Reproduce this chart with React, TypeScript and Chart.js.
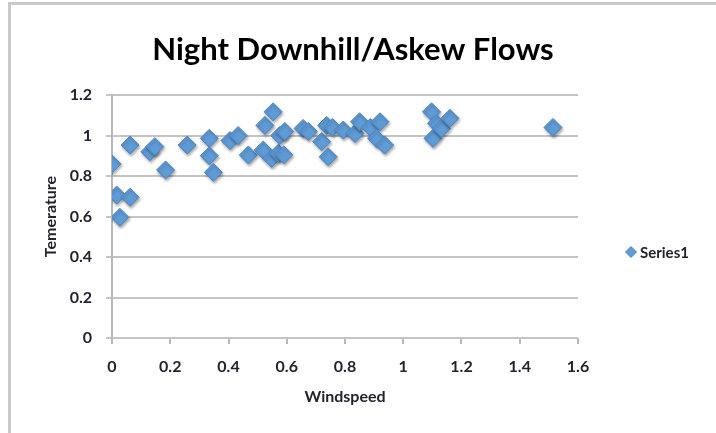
import { useEffect, useRef } from "react";
import { Chart, registerables } from "chart.js";

Chart.register(...registerables);

// Night flow observations: wind speed against temperature
const windspeed = [
  0.0, 0.016, 0.027, 0.062, 0.062, 0.13, 0.147, 0.184, 0.258, 0.334,
  0.334, 0.348, 0.405, 0.433, 0.468, 0.519, 0.525, 0.553, 0.548, 0.571,
  0.576, 0.593, 0.59, 0.656, 0.674, 0.72, 0.737, 0.742, 0.757, 0.794,
  0.834, 0.85, 0.887, 0.92, 0.908, 0.936, 1.097, 1.114, 1.102, 1.131,
  1.16, 1.514,
];
const temperature = [
  0.86, 0.706, 0.596, 0.695, 0.953, 0.92, 0.945, 0.83, 0.953, 0.986,
  0.9, 0.818, 0.975, 1.0, 0.904, 0.928, 1.05, 1.117, 0.887, 0.912,
  1.0, 1.02, 0.905, 1.035, 1.02, 0.97, 1.05, 0.895, 1.04, 1.027,
  1.01, 1.068, 1.04, 1.068, 0.986, 0.953, 1.117, 1.06, 0.986, 1.035,
  1.085, 1.04,
];

const xTickValues = [0, 0.2, 0.4, 0.6, 0.8, 1, 1.2, 1.4, 1.6];
const xTickLabels = ["0", "0.2", "0.4", "0.6", "0.8", "1", "1.2", "1.4", "1.6"];
const yTickValues = [0, 0.2, 0.4, 0.6, 0.8, 1, 1.2];
const yTickLabels = ["0", "0.2", "0.4", "0.6", "0.8", "1", "1.2"];

const chartTitle = "Night Downhill/Askew Flows";
const xAxisTitle = "Windspeed";
const yAxisTitle = "Temerature";
const seriesName = "Series1";

const FONT = "Lato, 'Open Sans', 'DejaVu Sans', sans-serif";
const MARKER_FILL = "#5f9bd6";
const MARKER_EDGE = "#4d85c0";
const TEXT_COLOR = "#222230";

function drawDiamond(ctx: CanvasRenderingContext2D, x: number, y: number, r: number) {
  ctx.beginPath();
  ctx.moveTo(x, y - r);
  ctx.lineTo(x + r, y);
  ctx.lineTo(x, y + r);
  ctx.lineTo(x - r, y);
  ctx.closePath();
  ctx.fill();
  ctx.stroke();
}

const labelsPlugin = {
  id: "labels",
  beforeDatasetsDraw(chart: any) {
    const ctx = chart.ctx as CanvasRenderingContext2D;
    ctx.save();
    ctx.shadowColor = "rgba(0,0,0,0.35)";
    ctx.shadowBlur = 3;
    ctx.shadowOffsetX = 1;
    ctx.shadowOffsetY = 2;
  },
  afterDatasetsDraw(chart: any) {
    const ctx = chart.ctx as CanvasRenderingContext2D;
    ctx.restore();
  },
  afterDraw(chart: any) {
    const ctx = chart.ctx as CanvasRenderingContext2D;
    const area = chart.chartArea;
    ctx.save();
    ctx.fillStyle = "#000";
    ctx.textAlign = "center";
    ctx.textBaseline = "middle";
    ctx.font = `bold 31px ${FONT}`;
    ctx.fillText(chartTitle, 353, 50);

    ctx.fillStyle = TEXT_COLOR;
    ctx.font = `bold 16px ${FONT}`;
    ctx.fillText(xAxisTitle, 345, 397);

    ctx.save();
    ctx.translate(51, (area.top + area.bottom) / 2);
    ctx.rotate(-Math.PI / 2);
    ctx.fillText(yAxisTitle, 0, 0);
    ctx.restore();

    // legend
    ctx.fillStyle = MARKER_FILL;
    ctx.strokeStyle = MARKER_EDGE;
    ctx.lineWidth = 1;
    drawDiamond(ctx, 631, 252, 5.5);
    ctx.fillStyle = TEXT_COLOR;
    ctx.textAlign = "left";
    ctx.font = `bold 15px ${FONT}`;
    ctx.fillText(seriesName, 640, 253);
    ctx.restore();
  },
};

export default function App() {
  const canvasRef = useRef<HTMLCanvasElement | null>(null);

  useEffect(() => {
    const canvas = canvasRef.current;
    if (!canvas) return;
    const points = windspeed.map((x, i) => ({ x, y: temperature[i] }));
    const tickFont = { family: FONT, size: 16, weight: "bold" as const };

    const chart = new Chart(canvas, {
      type: "scatter",
      data: {
        datasets: [
          {
            label: seriesName,
            data: points,
            pointStyle: "rectRot",
            pointRadius: 9,
            pointHoverRadius: 9,
            backgroundColor: MARKER_FILL,
            borderColor: MARKER_EDGE,
            borderWidth: 1,
          },
        ],
      },
      options: {
        responsive: false,
        animation: false,
        layout: { padding: { left: 0, top: 95, right: 138, bottom: 0 } },
        plugins: {
          legend: { display: false },
          title: { display: false },
          tooltip: { enabled: false },
        },
        scales: {
          x: {
            type: "linear",
            min: 0,
            max: 1.6,
            afterBuildTicks: (s: any) => {
              s.ticks = xTickValues.map((value) => ({ value }));
            },
            afterFit: (s: any) => {
              s.height = 95;
            },
            grid: {
              drawOnChartArea: false,
              drawTicks: true,
              tickLength: 6,
              color: "#b8b8b8",
              lineWidth: 2,
            },
            border: { display: false },
            ticks: {
              padding: 13,
              color: TEXT_COLOR,
              font: tickFont,
              maxRotation: 0,
              callback: (_v: any, i: number) => xTickLabels[i],
            },
          },
          y: {
            type: "linear",
            min: 0,
            max: 1.2,
            afterBuildTicks: (s: any) => {
              s.ticks = yTickValues.map((value) => ({ value }));
            },
            afterFit: (s: any) => {
              s.width = 112;
            },
            grid: {
              color: "#c4c4c4",
              lineWidth: 2,
              drawTicks: true,
              tickLength: 6,
            },
            border: { color: "#b8b8b8", width: 2 },
            ticks: {
              padding: 14,
              color: TEXT_COLOR,
              font: tickFont,
              callback: (_v: any, i: number) => yTickLabels[i],
            },
          },
        },
      },
      plugins: [labelsPlugin],
    });

    return () => chart.destroy();
  }, []);

  return (
    <div
      style={{
        position: "fixed",
        left: 0,
        top: 0,
        width: 716,
        height: 433,
        background: "#fff",
        overflow: "hidden",
      }}
    >
      <div
        style={{
          position: "absolute",
          left: 8,
          top: 2,
          right: 0,
          bottom: 0,
          borderLeft: "3px solid #c9c9c9",
          borderTop: "3px solid #c9c9c9",
        }}
      />
      <canvas
        ref={canvasRef}
        width={716}
        height={433}
        style={{ position: "absolute", left: 0, top: 0, width: 716, height: 433 }}
      />
    </div>
  );
}
